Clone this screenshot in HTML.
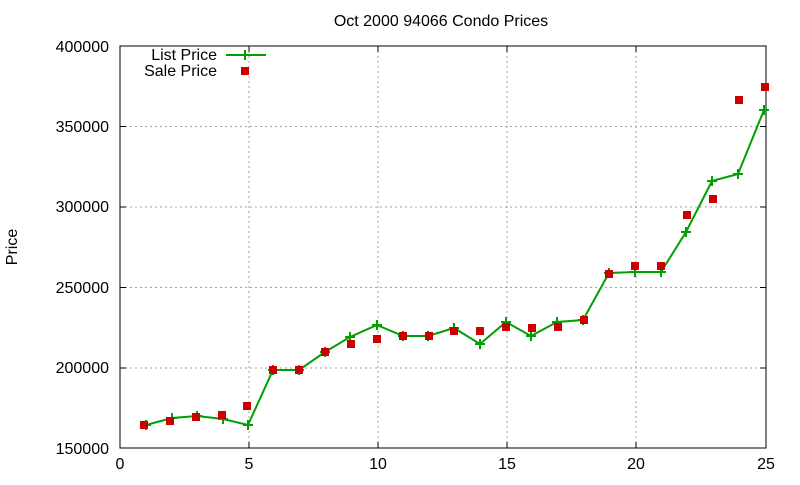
<!DOCTYPE html>
<html><head><style>body{margin:0;background:#fff}</style></head><body>
<svg width="800" height="480" xmlns="http://www.w3.org/2000/svg" font-family="Liberation Sans, sans-serif" font-size="16">
<rect width="800" height="480" fill="#fff"/>
<g stroke="#a0a0a0" stroke-dasharray="2,3" stroke-width="1">
<line x1="120" y1="126.5" x2="766" y2="126.5"/><line x1="120" y1="207" x2="766" y2="207"/>
<line x1="120" y1="287.5" x2="766" y2="287.5"/><line x1="120" y1="368" x2="766" y2="368"/>
<line x1="249" y1="46" x2="249" y2="448"/><line x1="378" y1="46" x2="378" y2="448"/>
<line x1="507" y1="46" x2="507" y2="448"/><line x1="636" y1="46" x2="636" y2="448"/>
</g>
<rect x="120" y="46" width="646" height="402" fill="none" stroke="#000" stroke-width="1"/>
<g stroke="#000">
<line x1="120" y1="126.5" x2="126" y2="126.5"/><line x1="120" y1="207" x2="126" y2="207"/><line x1="120" y1="287.5" x2="126" y2="287.5"/><line x1="120" y1="368" x2="126" y2="368"/>
<line x1="766" y1="126.5" x2="760" y2="126.5"/><line x1="766" y1="207" x2="760" y2="207"/><line x1="766" y1="287.5" x2="760" y2="287.5"/><line x1="766" y1="368" x2="760" y2="368"/>
<line x1="249" y1="448" x2="249" y2="442"/><line x1="378" y1="448" x2="378" y2="442"/><line x1="507" y1="448" x2="507" y2="442"/><line x1="636" y1="448" x2="636" y2="442"/>
<line x1="249" y1="46" x2="249" y2="52"/><line x1="378" y1="46" x2="378" y2="52"/><line x1="507" y1="46" x2="507" y2="52"/><line x1="636" y1="46" x2="636" y2="52"/>
</g>
<g text-anchor="end">
<text x="109" y="52">400000</text><text x="109" y="132">350000</text><text x="109" y="212">300000</text>
<text x="109" y="293">250000</text><text x="109" y="373">200000</text><text x="109" y="454">150000</text>
</g>
<g text-anchor="middle">
<text x="120" y="469">0</text><text x="249" y="469">5</text><text x="378" y="469">10</text><text x="507" y="469">15</text><text x="636" y="469">20</text><text x="766" y="469">25</text>
<text x="441" y="26">Oct 2000 94066 Condo Prices</text>
</g>
<text transform="translate(17,247) rotate(-90)" text-anchor="middle">Price</text>
<text x="217" y="60" text-anchor="end">List Price</text>
<text x="217" y="76" text-anchor="end">Sale Price</text>
<line x1="226" y1="55" x2="266" y2="55" stroke="#00a000" stroke-width="2"/>
<path d="M245 50v10M240 55h10" stroke="#00a000" stroke-width="2"/>
<rect x="241" y="67" width="8" height="8" fill="#cc0000"/>
<polyline fill="none" stroke="#00a000" stroke-width="2" points="146,425 172,418 197,416 223,419 248,425 273,370 299,370 325,352 350,337 377,325 403,336 428,336 454,328 480,344 506,322 531,336 557,322 583,320 609,273 635,272 661,272 686,232 712,181 738,174 764,110"/>
<g stroke="#00a000" stroke-width="2">
<path d="M146 420v10M141 425h10M172 413v10M167 418h10M197 411v10M192 416h10M223 414v10M218 419h10M248 420v10M243 425h10M273 365v10M268 370h10M299 365v10M294 370h10M325 347v10M320 352h10M350 332v10M345 337h10M377 320v10M372 325h10M403 331v10M398 336h10M428 331v10M423 336h10M454 323v10M449 328h10M480 339v10M475 344h10M506 317v10M501 322h10M531 331v10M526 336h10M557 317v10M552 322h10M583 315v10M578 320h10M609 268v10M604 273h10M635 267v10M630 272h10M661 267v10M656 272h10M686 227v10M681 232h10M712 176v10M707 181h10M738 169v10M733 174h10M764 105v10M759 110h10"/>
</g>
<g fill="#cc0000">
<rect x="140" y="421" width="8" height="8"/><rect x="166" y="417" width="8" height="8"/><rect x="192" y="413" width="8" height="8"/><rect x="218" y="411" width="8" height="8"/><rect x="243" y="402" width="8" height="8"/>
<rect x="269" y="366" width="8" height="8"/><rect x="295" y="366" width="8" height="8"/><rect x="321" y="348" width="8" height="8"/><rect x="347" y="340" width="8" height="8"/><rect x="373" y="335" width="8" height="8"/>
<rect x="399" y="332" width="8" height="8"/><rect x="425" y="332" width="8" height="8"/><rect x="450" y="327" width="8" height="8"/><rect x="476" y="327" width="8" height="8"/><rect x="502" y="323" width="8" height="8"/>
<rect x="528" y="324" width="8" height="8"/><rect x="554" y="323" width="8" height="8"/><rect x="580" y="316" width="8" height="8"/><rect x="605" y="270" width="8" height="8"/><rect x="631" y="262" width="8" height="8"/>
<rect x="657" y="262" width="8" height="8"/><rect x="683" y="211" width="8" height="8"/><rect x="709" y="195" width="8" height="8"/><rect x="735" y="96" width="8" height="8"/><rect x="761" y="83" width="8" height="8"/>
</g>
</svg>
</body></html>
